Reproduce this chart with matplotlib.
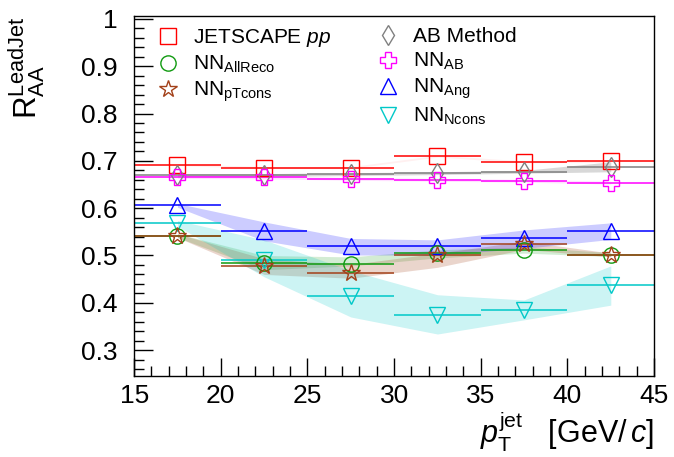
import matplotlib
matplotlib.use('Agg')
import matplotlib.pyplot as plt
from matplotlib.lines import Line2D
from matplotlib.ticker import MultipleLocator, FuncFormatter
import numpy as np

plt.rcParams['font.family'] = ['Liberation Sans', 'DejaVu Sans']
plt.rcParams['mathtext.fontset'] = 'custom'
plt.rcParams['mathtext.rm'] = 'Liberation Sans'
plt.rcParams['mathtext.it'] = 'Liberation Sans:italic'
plt.rcParams['mathtext.default'] = 'regular'

# bin edges / centres in jet pT
bin_lo = np.array([15, 20, 25, 30, 35, 40])
bin_hi = np.array([20, 25, 30, 35, 40, 45])
pt = (bin_lo + bin_hi) / 2.0

# central values
jetscape = [0.692, 0.686, 0.686, 0.710, 0.698, 0.699]
ab_method = [0.670, 0.670, 0.672, 0.674, 0.677, 0.688]
nn_ab = [0.666, 0.665, 0.662, 0.660, 0.658, 0.654]
nn_allreco = [0.542, 0.484, 0.481, 0.505, 0.512, 0.502]
nn_ptcons = [0.542, 0.478, 0.464, 0.501, 0.524, 0.501]
nn_ang = [0.606, 0.552, 0.519, 0.519, 0.536, 0.551]
nn_ncons = [0.568, 0.490, 0.415, 0.374, 0.384, 0.438]

# uncertainty bands (low, high)
jetscape_lo = [0.690, 0.684, 0.684, 0.708, 0.696, 0.697]
jetscape_hi = [0.694, 0.688, 0.688, 0.712, 0.700, 0.701]
ab_lo = [0.667, 0.667, 0.669, 0.671, 0.674, 0.677]
ab_hi = [0.673, 0.673, 0.675, 0.677, 0.680, 0.698]
nnab_lo = [0.663, 0.662, 0.659, 0.657, 0.655, 0.651]
nnab_hi = [0.669, 0.668, 0.665, 0.663, 0.661, 0.657]
allreco_lo = [0.538, 0.470, 0.478, 0.495, 0.505, 0.498]
allreco_hi = [0.546, 0.500, 0.497, 0.512, 0.518, 0.506]
ptcons_lo = [0.538, 0.460, 0.452, 0.475, 0.513, 0.497]
ptcons_hi = [0.546, 0.493, 0.481, 0.505, 0.530, 0.505]
ang_lo = [0.602, 0.531, 0.501, 0.501, 0.515, 0.534]
ang_hi = [0.610, 0.571, 0.536, 0.533, 0.554, 0.569]
ncons_lo = [0.562, 0.455, 0.370, 0.334, 0.364, 0.395]
ncons_hi = [0.574, 0.533, 0.468, 0.417, 0.406, 0.478]

series = [
    # label, values, lo, hi, color, marker, ms, band alpha
    ('JETSCAPE $\\mathit{pp}$', jetscape, jetscape_lo, jetscape_hi, '#ff0000', 's', 11, 0.06),
    ('NN$_{AllReco}$', nn_allreco, allreco_lo, allreco_hi, '#109a10', 'o', 11, 0.18),
    ('NN$_{pTcons}$', nn_ptcons, ptcons_lo, ptcons_hi, '#a3411a', '*', 13, 0.22),
    ('AB Method', ab_method, ab_lo, ab_hi, '#808080', 'd', 10.5, 0.3),
    ('NN$_{AB}$', nn_ab, nnab_lo, nnab_hi, '#ff00ff', 'P', 11, 0.12),
    ('NN$_{Ang}$', nn_ang, ang_lo, ang_hi, '#0000ff', '^', 11, 0.2),
    ('NN$_{Ncons}$', nn_ncons, ncons_lo, ncons_hi, '#00c8c8', 'v', 11, 0.2),
]

fig = plt.figure(figsize=(6.74, 4.57), dpi=100)
ax = fig.add_axes([0.199, 0.177, 0.7715, 0.7877])

# bands first
for lab, y, lo, hi, c, m, ms, a in series:
    ax.fill_between(pt, lo, hi, color=c, alpha=a, lw=0, zorder=1)

draw_order = [0, 3, 4, 5, 6, 1, 2]
handles = {}
for i in draw_order:
    lab, y, lo, hi, c, m, ms, a = series[i]
    ax.hlines(y, bin_lo, bin_hi, colors=c, lw=1.1, zorder=2)
    ax.plot(pt, y, ls='none', marker=m, ms=ms, mfc='none', mec=c, mew=1.0, zorder=3)
    handles[i] = Line2D([], [], ls='none', marker=m, ms=ms, mfc='none', mec=c, mew=1.0)

ax.set_xlim(15, 45)
ax.set_ylim(0.245, 1.006)

ax.xaxis.set_major_locator(MultipleLocator(5))
ax.xaxis.set_minor_locator(MultipleLocator(1))
ax.yaxis.set_major_locator(MultipleLocator(0.1))
ax.yaxis.set_minor_locator(MultipleLocator(0.02))
ax.yaxis.set_major_formatter(FuncFormatter(lambda v, p: '%g' % round(v, 2)))
ax.tick_params(which='both', direction='in', top=False, right=False, labelsize=19)
ax.tick_params(axis='y', which='major', length=14, width=1, pad=12)
ax.tick_params(axis='y', which='minor', length=7, width=1)
ax.tick_params(axis='x', which='major', length=13, width=1, pad=6)
ax.tick_params(axis='x', which='minor', length=7, width=1)
for s in ax.spines.values():
    s.set_linewidth(1.0)

ax.set_ylabel('R$_{AA}^{LeadJet}$', fontsize=22.5, loc='top')
ax.yaxis.set_label_coords(-0.168, 1.0)
ax.set_xlabel('$\\mathit{p}_{T}^{jet}$   [GeV/$\\,\\mathit{c}$]', fontsize=22, loc='right')
ax.xaxis.label.set_va('baseline')
ax.xaxis.set_label_coords(1.0, -0.186)

leg_kw = dict(frameon=False, fontsize=15, handlelength=1.0, handletextpad=0.7,
              labelspacing=0.22, borderpad=0, borderaxespad=0, loc='upper left')
leg1 = fig.legend([handles[i] for i in (0, 1, 2)], [series[i][0] for i in (0, 1, 2)],
                  bbox_to_anchor=(0.234, 0.94), **leg_kw)
leg2 = fig.legend([handles[i] for i in (3, 4, 5, 6)], [series[i][0] for i in (3, 4, 5, 6)],
                  bbox_to_anchor=(0.560, 0.94), **leg_kw)

fig.savefig('out.png', dpi=100)
